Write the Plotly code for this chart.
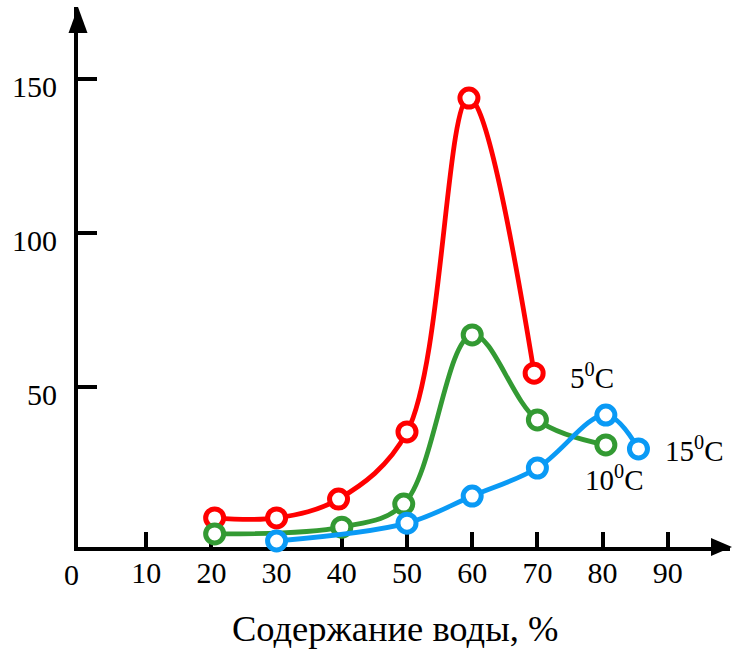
import plotly.graph_objects as go

# ---- data ----
red_x = [20.5, 30, 39.5, 50, 59.5, 69.5]
red_y = [7.5, 7.5, 13.6, 35.4, 143.8, 54.5]
green_x = [20.5, 40, 49.5, 60, 70, 80.5]
green_y = [2.3, 4.5, 12.0, 66.9, 39.3, 31.2]
blue_x = [30, 50, 60, 70, 80.5, 85.5]
blue_y = [0.0, 5.8, 14.6, 23.7, 40.9, 29.9]
x_ticks = [10, 20, 30, 40, 50, 60, 70, 80, 90]
y_ticks = [50, 100, 150]
series_labels = ["5<sup>0</sup>C", "10<sup>0</sup>C", "15<sup>0</sup>C"]
x_title = "Содержание воды, %"

W, H = 732, 660
L, R, T, B = 78, 2, 7, 113
PW, PH = W - L - R, H - T - B
XR = [-0.46, -0.46 + PW / 6.52]
YR = [-1.95, -1.95 + PH / 3.08]

def px(x):
    return (x - L) / PW

def py(y):
    return (H - B - y) / PH

FONT = "Liberation Serif, Times New Roman, serif"
RED, GREEN, BLUE = "#ff0000", "#339a33", "#0a9af5"

fig = go.Figure()
for xs, ys, c in [(red_x, red_y, RED), (green_x, green_y, GREEN), (blue_x, blue_y, BLUE)]:
    fig.add_trace(go.Scatter(
        x=xs, y=ys, mode="lines+markers",
        line=dict(color=c, width=4.8, shape="spline", smoothing=1.0),
        marker=dict(symbol="circle", size=18, color="white", line=dict(color=c, width=5)),
        showlegend=False, cliponaxis=False,
    ))

ann = [
    dict(x=74.7, y=53.5, text=series_labels[0], xanchor="left", yanchor="middle"),
    dict(x=77.0, y=20.5, text=series_labels[1], xanchor="left", yanchor="middle"),
    dict(x=89.3, y=30.0, text=series_labels[2], xanchor="left", yanchor="middle"),
]
annotations = []
for a in ann:
    annotations.append(dict(xref="x", yref="y", showarrow=False,
                            font=dict(family=FONT, size=29, color="black"), **a))
annotations.append(dict(xref="paper", yref="paper", x=px(71), y=py(574), text="0",
                        showarrow=False, xanchor="center", yanchor="middle",
                        font=dict(family=FONT, size=30, color="black")))
annotations.append(dict(xref="paper", yref="paper", x=px(395), y=py(628), text=x_title,
                        showarrow=False, xanchor="center", yanchor="middle",
                        font=dict(family=FONT, size=36.5, color="black")))

shapes = [
    # y arrow head
    dict(type="path", xref="paper", yref="paper",
         path=f"M {px(68.5)} {py(33)} L {px(78)} {py(7)} L {px(87.5)} {py(33)} Z",
         fillcolor="black", line=dict(width=0)),
    # x arrow head
    dict(type="path", xref="paper", yref="paper",
         path=f"M {px(711)} {py(538)} L {px(732)} {py(547)} L {px(711)} {py(556)} Z",
         fillcolor="black", line=dict(width=0)),
]

fig.update_layout(
    width=W, height=H, margin=dict(l=L, r=R, t=T, b=B, autoexpand=False),
    paper_bgcolor="white", plot_bgcolor="white",
    annotations=annotations, shapes=shapes,
    xaxis=dict(range=XR, showgrid=False, zeroline=False, showline=True, automargin=False,
               linecolor="black", linewidth=4, ticks="inside", ticklen=15, tickwidth=4,
               tickcolor="black", tickvals=x_ticks, layer="below traces",
               tickfont=dict(family=FONT, size=30, color="black"), ticklabelstandoff=-4),
    yaxis=dict(range=YR, showgrid=False, zeroline=False, showline=True, automargin=False,
               linecolor="black", linewidth=4, ticks="inside", ticklen=19, tickwidth=4,
               tickcolor="black", tickvals=y_ticks, layer="below traces",
               tickfont=dict(family=FONT, size=30, color="black"), ticklabelstandoff=11,
               ticklabelshift=8),
)
fig.write_html("out.html", config={"displayModeBar": False},
               post_script="document.body.style.margin='0';")
